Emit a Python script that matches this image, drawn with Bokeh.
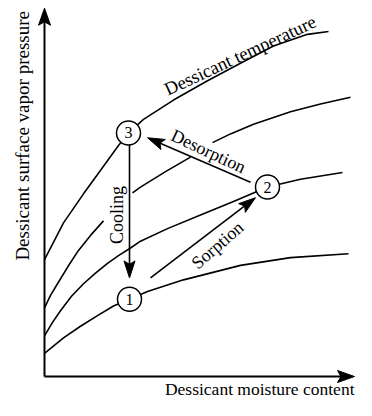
import math
from bokeh.plotting import figure
from bokeh.models import Range1d
from bokeh.core.properties import value
from bokeh.embed import file_html
from bokeh.resources import INLINE

# ---- data (schematic units: moisture content -> x, vapor pressure -> y) ----
curve1_x = [0, 19, 36, 53, 69, 85, 103, 139, 196, 246, 304]
curve1_y = [24, 40, 52, 63, 73, 80, 88, 100, 115, 123, 127]

curve2_x = [0, 8, 16, 27, 39, 51, 63, 74, 86, 96, 123, 156, 189, 223, 256, 298]
curve2_y = [42, 56, 68, 83, 96, 107, 117, 125, 133, 140, 153, 167, 181, 196, 204, 211]

nan = float("nan")
curve3_x = [0, 6, 13, 23, 33, 46, 59, nan, 88, 96, 121, 146, nan, 168, 186, 209, 246, 276, 306]
curve3_y = [71, 84, 96, 113, 129, 146, 161, nan, 190, 196, 212, 227, nan, 242, 251, 261, 274, 282, 289]

curve4_x = [0, 19, 39, 53, 74, 84, 99, 129, 163, 196, 229, 263, 284]
curve4_y = [121, 159, 189, 209, 239, 252, 266, 286, 306, 324, 342, 354, 357]

state_labels = ["1", "2", "3"]
state_x = [85, 223, 84]
state_y = [80, 196, 252]

process_names = ["Cooling", "Sorption", "Desorption"]
process_x0 = [85, 106, 206]
process_y0 = [241, 102, 201]
process_x1 = [85, 211, 103]
process_y1 = [102, 185, 247]

axis_x0 = [0, 0]
axis_y0 = [0, 0]
axis_x1 = [0, 310]
axis_y1 = [381, 0]

FONT = value("Liberation Serif")

W, H = 356, 400
X0, X1 = -44, 312
Y0, Y1 = -24.8, 389

p = figure(width=W, height=H, x_range=Range1d(X0, X1), y_range=Range1d(Y0, Y1),
           x_axis_type=None, y_axis_type=None, toolbar_location=None,
           output_backend="svg", min_border=0)
p.outline_line_color = None
p.background_fill_color = "white"

SX = W / (X1 - X0)
SY = H / (Y1 - Y0)


def draw_arrows(xs0, ys0, xs1, ys1, lw, head_len, head_w):
    lx, ly, hx, hy = [], [], [], []
    for a, b, c, d in zip(xs0, ys0, xs1, ys1):
        dx, dy = (c - a) * SX, (d - b) * SY
        L = math.hypot(dx, dy)
        ux, uy = dx / L, dy / L
        bx, by = -ux * head_len, -uy * head_len
        px, py = -uy * head_w / 2, ux * head_w / 2
        base_x = c + bx / SX
        base_y = d + by / SY
        lx.append([a, c + bx * 0.7 / SX])
        ly.append([b, d + by * 0.7 / SY])
        hx.append([c, base_x + px / SX, c + bx * 0.8 / SX, base_x - px / SX])
        hy.append([d, base_y + py / SY, d + by * 0.8 / SY, base_y - py / SY])
    p.multi_line(lx, ly, line_color="black", line_width=lw)
    p.patches(hx, hy, fill_color="black", line_color="black", line_width=1, line_join="miter")


# curves
for cx, cy in [(curve1_x, curve1_y), (curve2_x, curve2_y), (curve3_x, curve3_y), (curve4_x, curve4_y)]:
    p.line(cx, cy, line_color="black", line_width=1.6, line_join="round")

# axes and process arrows
draw_arrows(axis_x0, axis_y0, axis_x1, axis_y1, 2, 17, 12)
draw_arrows(process_x0, process_y0, process_x1, process_y1, 1.6, 17, 11)

# state circles
p.scatter(state_x, state_y, marker="circle", size=24, fill_color="white",
          line_color="black", line_width=1.5)
p.text(state_x, state_y, text=state_labels, text_font=FONT, text_font_size="16px",
       text_align="center", text_baseline="middle", text_color="black")

# process labels
p.text([72], [167], text=["Cooling"], angle=[math.pi / 2], text_font=FONT,
       text_font_size="18px", text_align="center", text_baseline="middle", text_color="black")
p.text([173], [136], text=["Sorption"], angle=[math.radians(41)], text_font=FONT,
       text_font_size="18px", text_align="center", text_baseline="middle", text_color="black")
p.text([164], [233], text=["Desorption"], angle=[math.radians(-25)], text_font=FONT,
       text_font_size="18px", text_align="center", text_baseline="middle", text_color="black")
p.text([121], [296], text=["Dessicant temperature"], angle=[math.radians(25)], text_font=FONT,
       text_font_size="18.5px", text_align="left", text_baseline="alphabetic", text_color="black")

# axis titles
p.text([-22], [249], text=["Dessicant surface vapor pressure"], angle=[math.pi / 2], text_font=FONT,
       text_font_size="19px", text_align="center", text_baseline="middle", text_color="black")
p.text([310], [-23.5], text=["Dessicant moisture content"], text_font=FONT,
       text_font_size="17.5px", text_align="right", text_baseline="bottom", text_color="black")

open("out.html", "w").write(file_html(p, INLINE))
